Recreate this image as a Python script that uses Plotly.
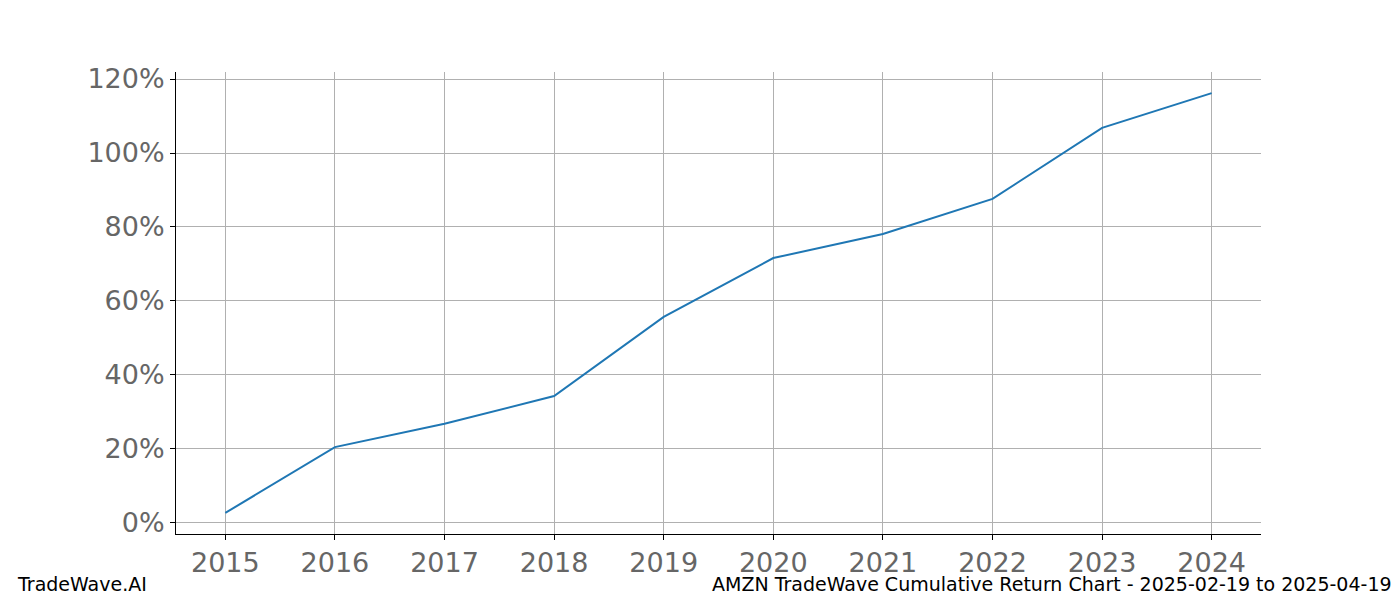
import plotly.graph_objects as go

years = [2015, 2016, 2017, 2018, 2019, 2020, 2021, 2022, 2023, 2024]
returns = [2.7, 20.5, 26.8, 34.3, 55.7, 71.6, 78.1, 87.6, 106.8, 116.2]
y_ticks = [0, 20, 40, 60, 80, 100, 120]
y_labels = [f"{v}%" for v in y_ticks]

fig = go.Figure(go.Scatter(x=years, y=returns, mode="lines",
                           line=dict(color="#1f77b4", width=2)))
fig.update_layout(
    width=1400, height=600, plot_bgcolor="white", paper_bgcolor="white",
    margin=dict(l=168, r=147, t=64, b=74), showlegend=False,
    font=dict(family="DejaVu Sans", color="#666666"),
)
fig.update_xaxes(range=[2014.55, 2024.45], tickvals=years, ticktext=[str(y) for y in years],
                 showgrid=True, gridcolor="#b0b0b0", gridwidth=1, showline=True,
                 linecolor="black", ticks="outside", ticklen=5, tickcolor="black",
                 tickfont=dict(size=27, color="#666666"), zeroline=False)
fig.update_yaxes(range=[-3.0, 121.9], tickvals=y_ticks, ticktext=y_labels,
                 showgrid=True, gridcolor="#b0b0b0", gridwidth=1, showline=True,
                 linecolor="black", ticks="outside", ticklen=5, tickcolor="black",
                 tickfont=dict(size=27, color="#666666"), zeroline=False)
fig.add_annotation(text="TradeWave.AI", xref="paper", yref="paper", x=0, y=0,
                   xshift=-161, yshift=-63, xanchor="left", yanchor="bottom",
                   showarrow=False, font=dict(size=19, color="black"))
fig.add_annotation(text="AMZN TradeWave Cumulative Return Chart - 2025-02-19 to 2025-04-19",
                   xref="paper", yref="paper", x=1, y=0, xshift=133, yshift=-63,
                   xanchor="right", yanchor="bottom", showarrow=False,
                   font=dict(size=19, color="black"))
fig.write_html("out.html")
